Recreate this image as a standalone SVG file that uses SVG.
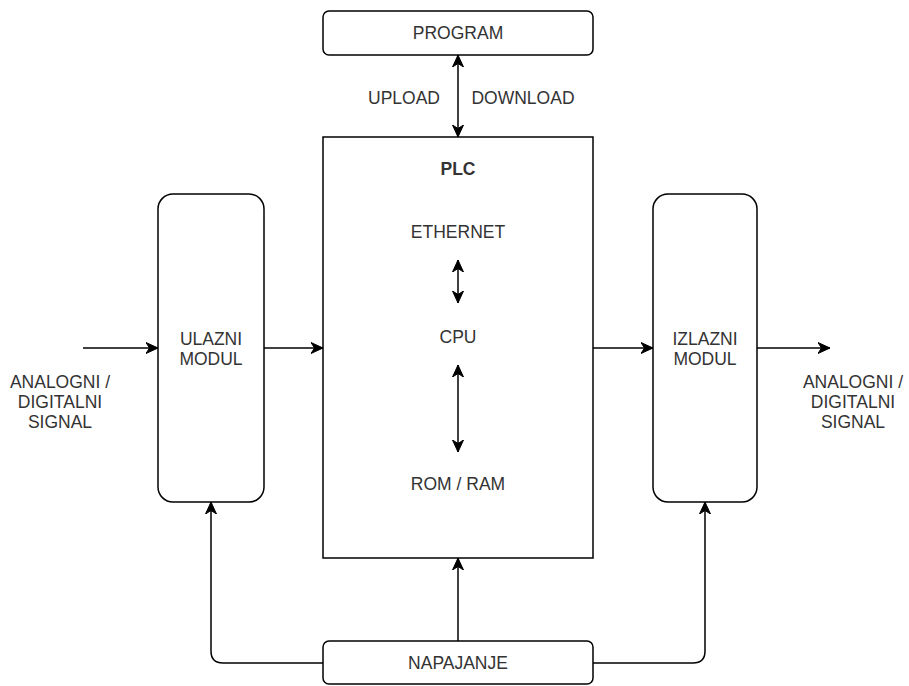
<svg xmlns="http://www.w3.org/2000/svg" width="909" height="686" viewBox="0 0 909 686">
<defs>
<marker id="arr" viewBox="-12 -6 13 12" refX="0" refY="0" markerWidth="13" markerHeight="12" markerUnits="userSpaceOnUse" orient="auto-start-reverse">
<path d="M0,0 L-12,-5.5 L-8.5,0 L-12,5.5 Z" fill="#000" stroke="#000" stroke-width="1"/>
</marker>
<style>
.box{fill:#fff;stroke:#000;stroke-width:1.5}
.t{font-family:"Liberation Sans",Arial,sans-serif;font-size:17.5px;fill:#333;text-anchor:middle}
.b{font-weight:bold}
.c{fill:none;stroke:#000;stroke-width:1.5}
</style>
</defs>
<rect width="909" height="686" fill="#fff"/>
<g id="program">
<rect class="box" x="323" y="11" width="270" height="44" rx="6"/>
<text class="t" x="458" y="39">PROGRAM</text>
</g>
<g id="plc">
<rect class="box" x="323" y="137" width="270" height="421"/>
<text class="t b" x="458" y="175">PLC</text>
<text class="t" x="458" y="238">ETHERNET</text>
<text class="t" x="458" y="343">CPU</text>
<text class="t" x="458" y="490">ROM / RAM</text>
</g>
<g id="ulazni">
<rect class="box" x="158" y="194" width="106" height="308" rx="15"/>
<text class="t" x="211" y="345">ULAZNI</text>
<text class="t" x="211" y="365">MODUL</text>
</g>
<g id="izlazni">
<rect class="box" x="653" y="194" width="104" height="308" rx="15"/>
<text class="t" x="705" y="345">IZLAZNI</text>
<text class="t" x="705" y="365">MODUL</text>
</g>
<g id="napajanje">
<rect class="box" x="323" y="641" width="270" height="43" rx="6"/>
<text class="t" x="458" y="669">NAPAJANJE</text>
</g>
<g id="labels">
<text class="t" x="404" y="104">UPLOAD</text>
<text class="t" x="523" y="104">DOWNLOAD</text>
<text class="t" x="60" y="388">ANALOGNI /</text>
<text class="t" x="60" y="408">DIGITALNI</text>
<text class="t" x="60" y="428">SIGNAL</text>
<text class="t" x="853" y="388">ANALOGNI /</text>
<text class="t" x="853" y="408">DIGITALNI</text>
<text class="t" x="853" y="428">SIGNAL</text>
</g>
<g id="connectors">
<path class="c" d="M458,55 L458,137" marker-start="url(#arr)" marker-end="url(#arr)"/>
<path class="c" d="M458,260 L458,303" marker-start="url(#arr)" marker-end="url(#arr)"/>
<path class="c" d="M458,365 L458,452" marker-start="url(#arr)" marker-end="url(#arr)"/>
<path class="c" d="M83,348 L158,348" marker-end="url(#arr)"/>
<path class="c" d="M264,348 L323,348" marker-end="url(#arr)"/>
<path class="c" d="M593,348 L653,348" marker-end="url(#arr)"/>
<path class="c" d="M757,348 L830,348" marker-end="url(#arr)"/>
<path class="c" d="M458,641 L458,558" marker-end="url(#arr)"/>
<path class="c" d="M323,663 L223,663 Q211,663 211,651 L211,502" marker-end="url(#arr)"/>
<path class="c" d="M593,663 L693,663 Q705,663 705,651 L705,502" marker-end="url(#arr)"/>
</g>
</svg>
